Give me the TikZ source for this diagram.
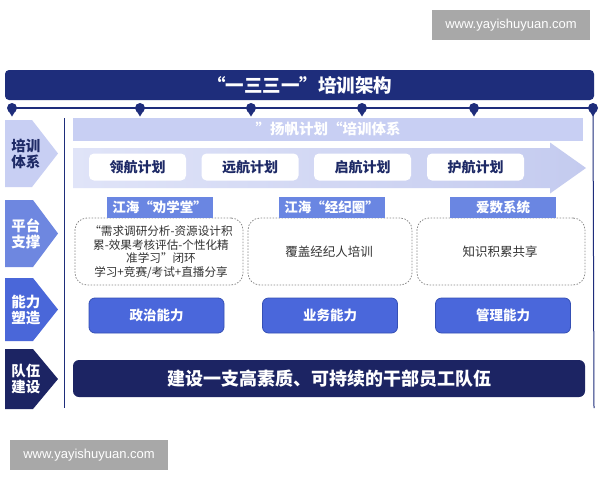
\documentclass[tikz,border=0pt]{standalone}
\usepackage{fontspec}
\setmainfont{Noto Sans CJK SC}
\newfontfamily\wmfont{Liberation Sans}
\definecolor{navy}{HTML}{1E2D7B}
\definecolor{wmgray}{HTML}{A8A8A8}
\definecolor{lav}{HTML}{C8CFF3}
\definecolor{lavtext}{HTML}{1E2A66}
\definecolor{chevB}{HTML}{6E87E0}
\definecolor{chevC}{HTML}{4A67D9}
\definecolor{teamNavy}{HTML}{1C2463}
\definecolor{arrowL}{HTML}{E0E4F8}
\definecolor{arrowR}{HTML}{C4CBEF}
\definecolor{planText}{HTML}{1E2A66}
\definecolor{platBlue}{HTML}{6A86E2}
\definecolor{dashGray}{HTML}{8A8A8A}
\definecolor{textGray}{HTML}{333333}
\definecolor{capBlue}{HTML}{4A67DB}
\definecolor{capBorder}{HTML}{3550B5}
\usetikzlibrary{positioning}
\tikzset{
  wm/.style={fill=wmgray, text=white, font=\wmfont\fontsize{13}{13}\selectfont, minimum width=158pt, minimum height=30pt, inner sep=0pt},
  titlebar/.style={fill=navy, rounded corners=4pt, minimum width=589pt, minimum height=30pt, text=white, inner sep=0pt, font=\bfseries\fontsize{18.5}{18.5}\selectfont},
  pin/.style={circle, fill=navy, minimum size=10pt, inner sep=0pt},
  rowlabel/.style={align=center, inner sep=0pt, font=\bfseries\fontsize{14.5}{16}\selectfont},
  planbox/.style={fill=white, rounded corners=5pt, minimum width=97pt, minimum height=27pt, text=planText, inner sep=0pt, font=\bfseries\fontsize{14}{14}\selectfont},
  platlabel/.style={fill=platBlue, minimum width=106pt, minimum height=21pt, text=white, inner sep=0pt, font=\bfseries\fontsize{13.5}{13.5}\selectfont},
  dashbox/.style={draw=dashGray, dash pattern=on 1.5pt off 1.5pt, line width=0.8pt, rounded corners=12pt, minimum height=67pt, inner sep=0pt},
  boxtext/.style={text=textGray, align=center, inner sep=0pt, font=\fontsize{11.6}{13.6}\selectfont},
  capbox/.style={fill=capBlue, draw=capBorder, line width=0.8pt, rounded corners=6pt, minimum width=135pt, minimum height=35pt, text=white, inner sep=0pt, font=\bfseries\fontsize{13.5}{13.5}\selectfont},
  teambar/.style={fill=teamNavy, rounded corners=6pt, minimum width=512pt, minimum height=37pt, text=white, inner sep=0pt, font=\bfseries\fontsize{18}{18}\selectfont},
  sailbar/.style={fill=lav, minimum width=510pt, minimum height=23pt, text=white, inner sep=0pt, font=\bfseries\fontsize{14.5}{14.5}\selectfont},
}
\begin{document}
\begin{tikzpicture}[x=1pt,y=-1pt]
\useasboundingbox (0,0) rectangle (600,480);
\fill[white] (0,0) rectangle (600,480);

% watermarks
\node[wm] (wm1) at (511,25) {www.yayishuyuan.com};
\node[wm] (wm2) at (89,455) {www.yayishuyuan.com};

% title
\node[titlebar] (title) at (299.5,85) {“一三三一”培训架构};

% timeline
\draw[navy, line width=1.6pt] (12,108) -- (593,108);
\foreach \i/\x in {1/12,2/140,3/251,4/362,5/474,6/593}{
  \fill[navy] (\x-4,110) -- (\x,116.5) -- (\x+4,110) -- cycle;
  \node[pin] (pin\i) at (\x,108) {};
}

% vertical lines
\coordinate (vl1) at (64,118);
\coordinate (vl2) at (64,408);
\coordinate (vr2) at (594,408);
\draw[navy, line width=1pt] (vl1) -- (vl2);
\draw[navy, line width=1pt] (pin6) -- (vr2);

% row chevrons
\fill[lav] (5,120) -- (32,120) -- (58,153.5) -- (32,187) -- (5,187) -- cycle;
\node[rowlabel, text=lavtext] (row1) at (26,153.5) {培训\\体系};
\fill[chevB] (5,200) -- (33,200) -- (58,233.5) -- (33,267) -- (5,267) -- cycle;
\node[rowlabel, text=white] (row2) at (26,233.5) {平台\\支撑};
\fill[chevC] (5,278) -- (33,278) -- (58,309.5) -- (33,341) -- (5,341) -- cycle;
\node[rowlabel, text=white] (row3) at (26,309.5) {能力\\塑造};
\fill[teamNavy] (5,349) -- (33,349) -- (58,379) -- (33,409) -- (5,409) -- cycle;
\node[rowlabel, text=white] (row4) at (26,379) {队伍\\建设};

% sail bar
\node[sailbar] (sail) at (328,129) {”扬帆计划“培训体系};

% big arrow
\shade[left color=arrowL, right color=arrowR] (73,148) -- (550,148) -- (550,142.5) -- (586,168) -- (550,193.5) -- (550,188) -- (73,188) -- cycle;
\node[planbox] (plan1) at (137.5,167) {领航计划};
\node[planbox] (plan2) at (250,167) {远航计划};
\node[planbox] (plan3) at (362.5,167) {启航计划};
\node[planbox] (plan4) at (475.5,167) {护航计划};

% platform boxes
\node[dashbox, minimum width=168pt] (dash1) at (159,251.5) {};
\node[dashbox, minimum width=164pt] (dash2) at (330,251.5) {};
\node[dashbox, minimum width=168pt] (dash3) at (501,251.5) {};
\node[platlabel] (plat1) at (159.5,207.5) {江海“劝学堂”};
\node[platlabel] (plat2) at (331.5,207.5) {江海“经纪圈”};
\node[platlabel] (plat3) at (503,207.5) {爱数系统};
\node[boxtext] (txt1) at (161,252) {“需求调研分析-资源设计积\\累-效果考核评估-个性化精\\准学习”闭环\\学习+竞赛/考试+直播分享};
\node[boxtext, font=\fontsize{12.5}{14}\selectfont] (txt2) at (329,252) {覆盖经纪人培训};
\node[boxtext, font=\fontsize{12.5}{14}\selectfont] (txt3) at (500,252) {知识积累共享};

% capability boxes
\node[capbox] (cap1) at (156.5,315.5) {政治能力};
\node[capbox] (cap2) at (330,315.5) {业务能力};
\node[capbox] (cap3) at (503,315.5) {管理能力};

% team bar
\node[teambar] (team) at (329,378.5) {建设一支高素质、可持续的干部员工队伍};
\end{tikzpicture}
\end{document}
